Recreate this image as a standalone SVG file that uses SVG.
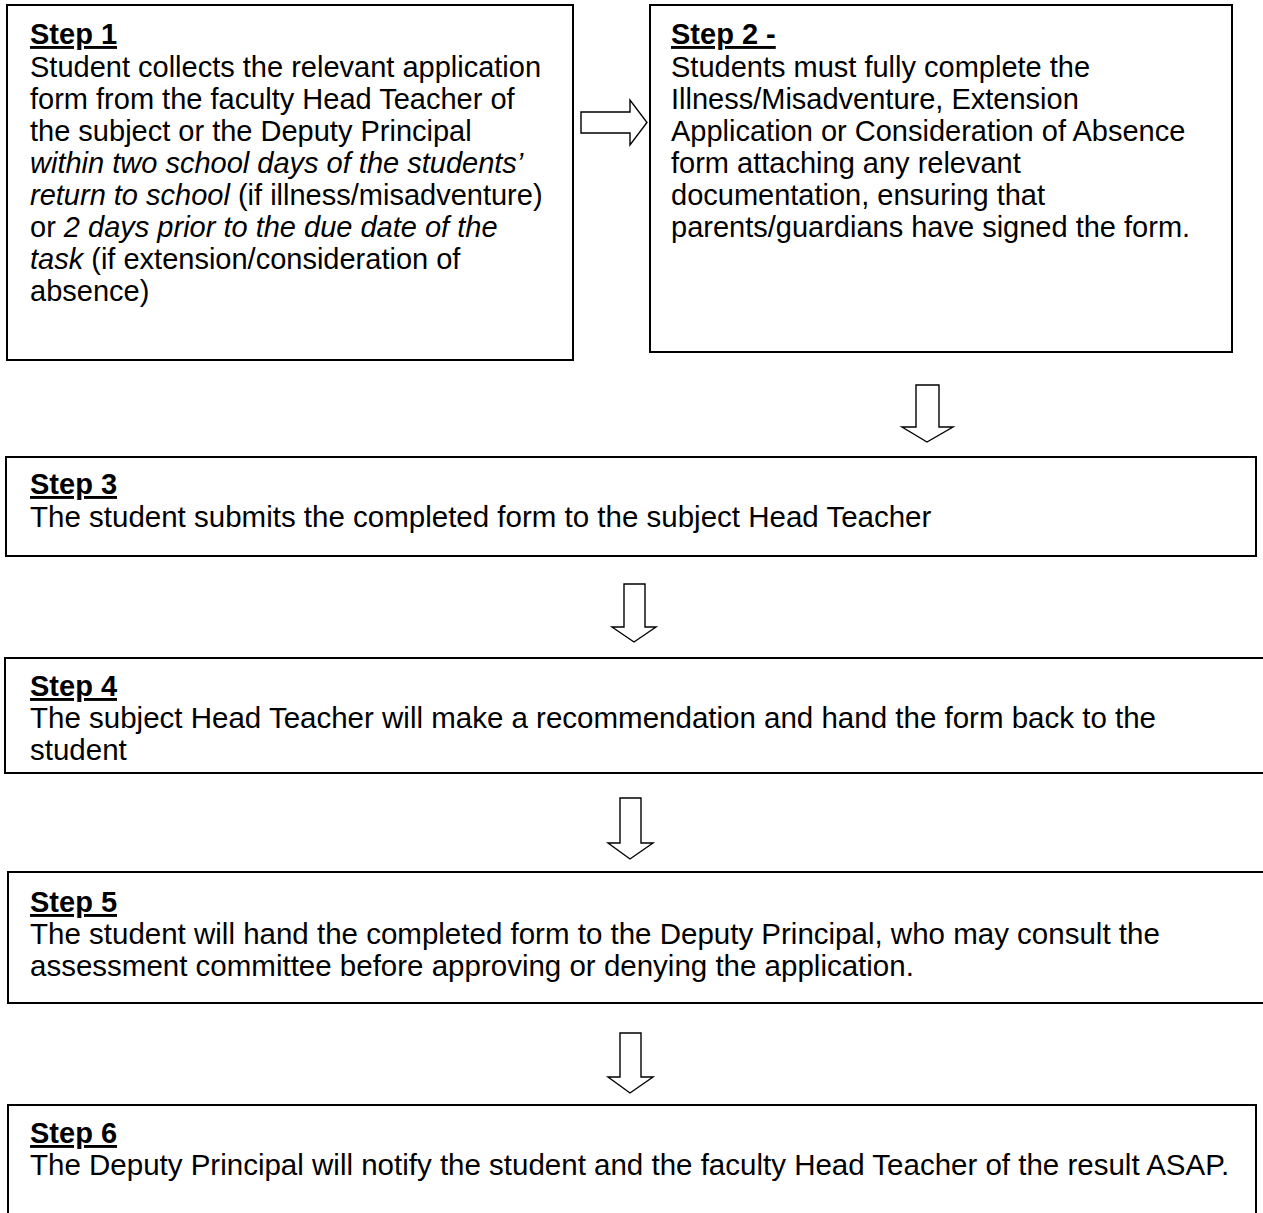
<svg xmlns="http://www.w3.org/2000/svg" width="1263" height="1213" viewBox="0 0 1263 1213">
<style>
.box{fill:#fff;stroke:#000;stroke-width:2}
.arr{fill:#fff;stroke:#000;stroke-width:1.4;stroke-linejoin:miter}
text{font-family:"Liberation Sans",Arial,sans-serif;font-size:29px;fill:#000}
.w{font-size:29.5px}
.h{font-weight:bold;text-decoration:underline}
.i{font-style:italic}
</style>
<rect width="1263" height="1213" fill="#fff"/>
<g id="step1">
<rect class="box" x="7" y="5" width="566" height="355"/>
<text x="30" y="44" class="h">Step 1</text>
<text x="30" y="77">Student collects the relevant application</text>
<text x="30" y="109">form from the faculty Head Teacher of</text>
<text x="30" y="141">the subject or the Deputy Principal</text>
<text x="30" y="173" class="i">within two school days of the students’</text>
<text x="30" y="205"><tspan class="i">return to school</tspan> (if illness/misadventure)</text>
<text x="30" y="237">or <tspan class="i">2 days prior to the due date of the</tspan></text>
<text x="30" y="269"><tspan class="i">task</tspan> (if extension/consideration of</text>
<text x="30" y="301">absence)</text>
</g>
<g id="step2">
<rect class="box" x="650" y="5" width="582" height="347"/>
<text x="671" y="44" class="h">Step 2 -</text>
<text x="671" y="77">Students must fully complete the</text>
<text x="671" y="109">Illness/Misadventure, Extension</text>
<text x="671" y="141">Application or Consideration of Absence</text>
<text x="671" y="173">form attaching any relevant</text>
<text x="671" y="205">documentation, ensuring that</text>
<text x="671" y="237">parents/guardians have signed the form.</text>
</g>
<g id="step3">
<rect class="box" x="6" y="457" width="1250" height="99"/>
<text x="30" y="494" class="h">Step 3</text>
<text x="30" y="527" class="w">The student submits the completed form to the subject Head Teacher</text>
</g>
<g id="step4">
<rect class="box" x="5" y="658" width="1270" height="115"/>
<text x="30" y="696" class="h">Step 4</text>
<text x="30" y="728" class="w">The subject Head Teacher will make a recommendation and hand the form back to the</text>
<text x="30" y="760" class="w">student</text>
</g>
<g id="step5">
<rect class="box" x="8" y="872" width="1270" height="131"/>
<text x="30" y="912" class="h">Step 5</text>
<text x="30" y="944" class="w">The student will hand the completed form to the Deputy Principal, who may consult the</text>
<text x="30" y="976" class="w">assessment committee before approving or denying the application.</text>
</g>
<g id="step6">
<rect class="box" x="8" y="1105" width="1248" height="130"/>
<text x="30" y="1143" class="h">Step 6</text>
<text x="30" y="1175" class="w">The Deputy Principal will notify the student and the faculty Head Teacher of the result ASAP.</text>
</g>
<g id="connectors">
<path class="arr" d="M581,112 H630 V100 L647,122.5 L630,145 V133 H581 Z"/>
<path class="arr" d="M916,385 H939 V427 H953 L927,442 L902,427 H916 Z"/>
<path class="arr" d="M624,584 H645 V627 H656 L634,642 L612,627 H624 Z"/>
<path class="arr" d="M620,798 H641 V843 H653 L630,859 L608,843 H620 Z"/>
<path class="arr" d="M620,1033 H641 V1077 H653 L630,1093 L608,1077 H620 Z"/>
</g>
</svg>
